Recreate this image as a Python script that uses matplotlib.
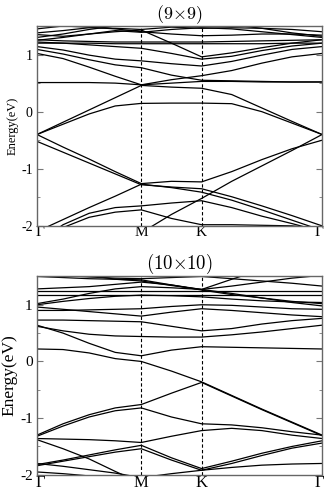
import numpy as np
import matplotlib
matplotlib.use('Agg')
import matplotlib.pyplot as plt
from matplotlib.ticker import MultipleLocator
from matplotlib.transforms import ScaledTranslation

plt.rcParams['font.family'] = ['Liberation Serif', 'DejaVu Serif']
plt.rcParams['mathtext.fontset'] = 'cm'
plt.rcParams['axes.unicode_minus'] = False

# high-symmetry path Γ-M-K-Γ (hexagonal lengths)
k_ticks = [0.0, 0.866, 1.366, 2.366]
k_labels = ['Γ', 'M', 'K', 'Γ']
k = [0.0, 0.2165, 0.433, 0.6495, 0.866, 1.116, 1.366, 1.616, 1.866, 2.116, 2.366]

# (9x9) bands, energies in eV at the k points above
bands_9x9 = [
    [-0.40, -0.62, -0.83, -1.05, -1.26, -1.22, -1.23, -1.05, -0.84, -0.65, -0.50],
    [-0.52, -0.71, -0.90, -1.09, -1.28, -1.32, -1.35, -1.49, -1.65, -1.82, -2.00],
    [-2.60, -2.50, -2.40, -2.30, -2.12, -1.80, -1.52, -1.22, -0.95, -0.68, -0.40],
    [-2.10, -1.89, -1.68, -1.48, -1.27, -1.33, -1.41, -1.55, -1.72, -1.90, -2.08],
    [-2.30, -1.98, -1.78, -1.68, -1.65, -1.60, -1.56, -1.68, -1.83, -1.96, -2.10],
    [-2.40, -2.03, -1.85, -1.76, -1.72, -1.87, -1.98, -1.98, -1.99, -2.00, -2.05],
    [-0.40, -0.22, -0.04, 0.10, 0.145, 0.15, 0.15, 0.14, 0.00, -0.20, -0.40],
    [-0.40, -0.185, 0.03, 0.245, 0.46, 0.43, 0.41, 0.30, 0.065, -0.17, -0.40],
    [0.51, 0.51, 0.51, 0.50, 0.47, 0.50, 0.53, 0.53, 0.52, 0.52, 0.52],
    [1.02, 0.93, 0.78, 0.62, 0.47, 0.56, 0.63, 0.72, 0.85, 0.96, 1.02],
    [1.09, 1.01, 0.91, 0.82, 0.77, 0.64, 0.55, 0.54, 0.53, 0.52, 0.52],
    [1.14, 1.08, 0.99, 0.92, 0.89, 0.84, 0.80, 0.88, 0.99, 1.09, 1.14],
    [1.25, 1.30, 1.36, 1.40, 1.43, 1.20, 0.96, 1.03, 1.12, 1.20, 1.26],
    [1.22, 1.20, 1.17, 1.14, 1.11, 1.02, 0.92, 0.97, 1.07, 1.15, 1.20],
    [1.20, 1.20, 1.20, 1.19, 1.19, 1.19, 1.19, 1.19, 1.19, 1.20, 1.20],
    [1.26, 1.24, 1.23, 1.22, 1.22, 1.22, 1.22, 1.23, 1.24, 1.25, 1.26],
    [1.30, 1.36, 1.44, 1.50, 1.55, 1.55, 1.55, 1.52, 1.46, 1.38, 1.32],
    [1.35, 1.32, 1.36, 1.42, 1.39, 1.44, 1.47, 1.45, 1.40, 1.35, 1.30],
    [1.38, 1.42, 1.47, 1.46, 1.44, 1.48, 1.46, 1.47, 1.46, 1.44, 1.40],
    [1.45, 1.50, 1.48, 1.45, 1.40, 1.36, 1.33, 1.34, 1.36, 1.36, 1.34],
]

# (10x10) bands
bands_10x10 = [
    [0.22, 0.21, 0.15, 0.05, 0.00, -0.17, -0.36, -0.60, -0.84, -1.07, -1.30],
    [0.64, 0.50, 0.32, 0.16, 0.10, 0.20, 0.26, 0.25, 0.24, 0.23, 0.22],
    [0.62, 0.54, 0.48, 0.45, 0.44, 0.43, 0.43, 0.47, 0.52, 0.58, 0.64],
    [-1.30, -1.10, -0.94, -0.82, -0.76, -0.56, -0.37, -0.61, -0.85, -1.08, -1.31],
    [-1.32, -1.14, -0.98, -0.87, -0.82, -0.98, -1.10, -1.12, -1.17, -1.24, -1.30],
    [-1.36, -1.37, -1.38, -1.40, -1.43, -1.32, -1.22, -1.18, -1.22, -1.30, -1.36],
    [-1.38, -1.54, -1.72, -1.94, -2.15, -2.40, -2.60, -2.60, -2.60, -2.60, -2.60],
    [-1.82, -1.74, -1.65, -1.56, -1.48, -1.70, -1.89, -1.76, -1.62, -1.50, -1.40],
    [-1.84, -1.76, -1.68, -1.60, -1.54, -1.74, -1.92, -1.80, -1.66, -1.53, -1.44],
    [-1.80, -1.85, -1.91, -1.97, -2.05, -2.20, -2.30, -2.30, -2.30, -2.30, -2.30],
    [-2.30, -2.20, -2.15, -2.10, -2.05, -1.98, -1.92, -1.87, -1.83, -1.81, -1.80],
    [-1.95, -1.98, -2.02, -2.10, -2.20, -2.30, -2.30, -2.30, -2.30, -2.30, -2.30],
    [0.73, 0.73, 0.72, 0.71, 0.70, 0.62, 0.54, 0.58, 0.66, 0.72, 0.76],
    [0.90, 0.90, 0.91, 0.92, 0.93, 0.97, 1.00, 0.99, 0.96, 0.93, 0.92],
    [0.96, 0.92, 0.88, 0.84, 0.80, 0.87, 0.93, 0.90, 0.86, 0.82, 0.79],
    [1.00, 1.06, 1.11, 1.15, 1.17, 1.16, 1.14, 1.10, 1.07, 1.05, 1.04],
    [1.02, 1.10, 1.20, 1.28, 1.32, 1.30, 1.27, 1.20, 1.12, 1.04, 0.98],
    [1.17, 1.17, 1.17, 1.17, 1.17, 1.17, 1.17, 1.17, 1.17, 1.17, 1.17],
    [1.25, 1.25, 1.25, 1.25, 1.25, 1.25, 1.25, 1.25, 1.25, 1.25, 1.25],
    [1.28, 1.30, 1.32, 1.36, 1.40, 1.35, 1.27, 1.33, 1.40, 1.47, 1.52],
    [1.50, 1.48, 1.46, 1.45, 1.44, 1.35, 1.26, 1.18, 1.12, 1.06, 1.02],
    [1.55, 1.52, 1.49, 1.47, 1.46, 1.48, 1.50, 1.46, 1.42, 1.38, 1.33],
    [1.60, 1.55, 1.52, 1.45, 1.42, 1.34, 1.27, 1.45, 1.62, 1.70, 1.70],
]


def draw_panel(ax, bands, title, fs_tick, fs_label, fs_title):
    for b in bands:
        ax.plot(k, b, color='black', lw=0.9)
    for x in k_ticks[1:3]:
        ax.axvline(x, color='black', ls='--', lw=0.8, dashes=(3, 2))
    ax.set_xlim(k_ticks[0], k_ticks[-1])
    ax.set_ylim(-2, 1.5)
    ax.set_xticks(k_ticks)
    ax.set_xticklabels(k_labels, fontsize=fs_tick + 1)
    ax.tick_params(axis='x', length=0, pad=0)
    # nudge the end labels inward, as in the original
    labs = ax.get_xticklabels()
    labs[0].set_transform(labs[0].get_transform() + ScaledTranslation(3 / 100, 0, fig.dpi_scale_trans))
    labs[-1].set_transform(labs[-1].get_transform() + ScaledTranslation(-3 / 100, 0, fig.dpi_scale_trans))
    ax.yaxis.set_major_locator(MultipleLocator(1))
    ax.yaxis.set_minor_locator(MultipleLocator(0.5))
    ax.tick_params(axis='y', which='both', direction='in', right=True,
                   color='#777777', labelsize=fs_tick, pad=3)
    ax.tick_params(axis='y', which='major', length=4)
    ax.tick_params(axis='y', which='minor', length=2)
    for s in ax.spines.values():
        s.set_color('#666666')
        s.set_linewidth(1.0)
    ax.set_ylabel('Energy(eV)', fontsize=fs_label, labelpad=2)
    ax.set_title(title, fontsize=fs_title, pad=3)


fig = plt.figure(figsize=(3.27, 4.91), dpi=100)
ax1 = fig.add_axes([0.113, 0.540, 0.872, 0.407])
ax2 = fig.add_axes([0.113, 0.033, 0.872, 0.404])

draw_panel(ax1, bands_9x9, r'$(9{\times}9)$', 10, 9, 13)
draw_panel(ax2, bands_10x10, r'$(10{\times}10)$', 11, 12.5, 13.5)

fig.savefig('out.png', dpi=100)
